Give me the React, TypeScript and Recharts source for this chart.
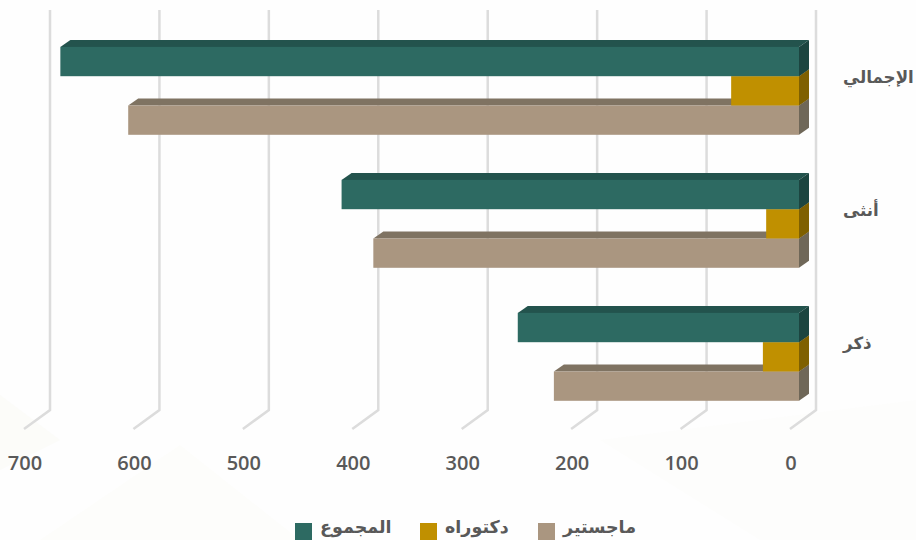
import { BarChart, Bar, XAxis, YAxis, CartesianGrid, Legend } from "recharts";

const CATEGORIES = ["الإجمالي", "أنثى", "ذكر"];
const MASTERS = [613, 389, 224];
const DOCTORATE = [62, 30, 33];
const TOTAL = [675, 418, 257];
const X_TICKS = [0, 100, 200, 300, 400, 500, 600, 700];

const data = CATEGORIES.map((name, i) => ({
  name,
  masters: MASTERS[i],
  doctorate: DOCTORATE[i],
  total: TOTAL[i],
}));

const TEXT = "#595959";
const GRID = "#dcdcdc";
const ARABIC = "'DejaVu Sans', sans-serif";
const DX = 10;
const DY = 7;
const BAR = 29.3;
const LEGEND_WIDTHS = [125, 118, 100];

// front, top and side faces of a fake 3D bar
function box(front: string, top: string, side: string) {
  return (props: any) => {
    const x = Math.min(props.x, props.x + props.width);
    const w = Math.abs(props.width);
    const { y, height: h } = props;
    return (
      <g>
        <polygon points={`${x},${y} ${x + w},${y} ${x + w + DX},${y - DY} ${x + DX},${y - DY}`} fill={top} />
        <polygon points={`${x + w},${y} ${x + w + DX},${y - DY} ${x + w + DX},${y + h - DY} ${x + w},${y + h}`} fill={side} />
        <rect x={x} y={y} width={w} height={h} fill={front} />
      </g>
    );
  };
}

// back wall line plus the floor line going towards the viewer
function wallLine(props: any) {
  const x = props.x1;
  return (
    <path
      key={x}
      d={`M${x + 17},10 L${x + 17},410 L${x - 9},429`}
      fill="none"
      stroke={GRID}
      strokeWidth={2.5}
    />
  );
}

function ValueTick({ x, payload }: any) {
  return (
    <text x={x - 8} y={469.5} textAnchor="middle" fontFamily="'Open Sans'" fontWeight={600} fontSize={20} fill={TEXT}>
      {payload.value}
    </text>
  );
}

function CategoryTick({ y, payload }: any) {
  return (
    <text x={843} y={y - 8} textAnchor="start" fontFamily={ARABIC} fontWeight={700} fontSize={16.7} fill={TEXT}>
      {payload.value}
    </text>
  );
}

function LegendRow({ payload }: any) {
  return (
    <div style={{ display: "flex", height: 26 }}>
      {(payload ?? []).map((it: any, i: number) => (
        <div key={it.value} style={{ display: "flex", width: LEGEND_WIDTHS[i] }}>
          <div style={{ width: 17, height: 17, marginTop: 9, background: it.color }} />
          <span style={{ marginLeft: 8, fontFamily: ARABIC, fontWeight: 700, fontSize: 17.5, color: TEXT, lineHeight: "26px" }}>
            {it.value}
          </span>
        </div>
      ))}
    </div>
  );
}

export default function App() {
  return (
    <div style={{ position: "absolute", left: 0, top: 0, width: 916, height: 540, overflow: "hidden", background: "#fefefe" }}>
      <svg width={916} height={540} style={{ position: "absolute", left: 0, top: 0 }}>
        <polygon points="0,395 60,440 0,470" fill="#fcfcf9" />
        <polygon points="180,445 300,540 40,540" fill="#fdfdfb" />
        <polygon points="600,440 916,400 916,540 760,540" fill="#fdfdfc" />
      </svg>
      <div style={{ position: "absolute", left: 0, top: 0 }}>
        <BarChart
          width={916}
          height={540}
          data={data}
          layout="vertical"
          barSize={BAR}
          barGap={-2 * BAR}
          margin={{ top: 24.5, right: 0, bottom: 0, left: 33 }}
        >
          <CartesianGrid horizontal={false} vertical={wallLine} />
          <XAxis
            type="number"
            domain={[0, 700]}
            ticks={X_TICKS}
            reversed
            height={90.5}
            axisLine={false}
            tickLine={false}
            tick={<ValueTick />}
          />
          <YAxis
            type="category"
            dataKey="name"
            orientation="right"
            width={117}
            axisLine={false}
            tickLine={false}
            tick={<CategoryTick />}
          />
          {/* negative gap: painted tan, gold, green but stacked green on top */}
          <Bar dataKey="masters" name="ماجستير" fill="#aa9680" isAnimationActive={false} shape={box("#aa9680", "#7f7362", "#6f6758")} />
          <Bar dataKey="doctorate" name="دكتوراه" fill="#c09000" isAnimationActive={false} shape={box("#c09000", "#906c00", "#7f6000")} />
          <Bar dataKey="total" name="المجموع" fill="#2d6a62" isAnimationActive={false} shape={box("#2d6a62", "#23534d", "#1c4540")} />
          <Legend
            content={<LegendRow />}
            wrapperStyle={{ position: "absolute", left: 295, top: 514, width: 400, bottom: "auto" }}
          />
        </BarChart>
      </div>
    </div>
  );
}
